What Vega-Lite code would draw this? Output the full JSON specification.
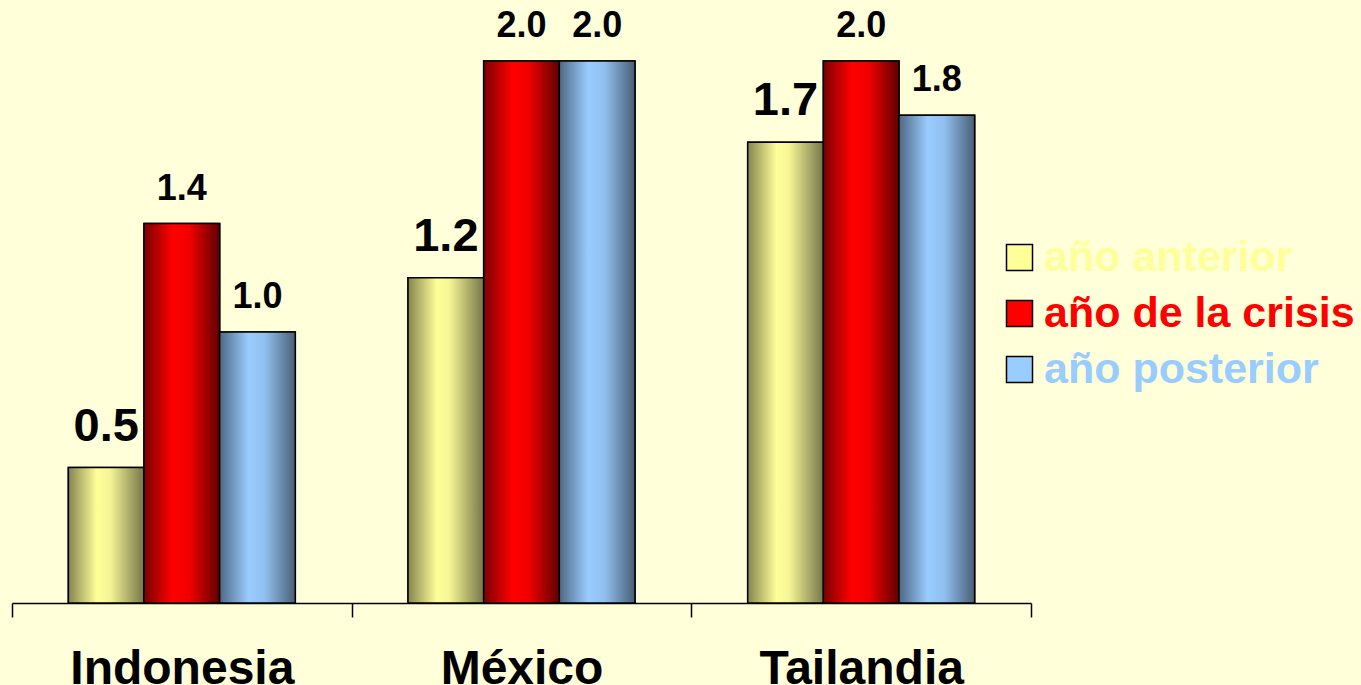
{
  "$schema": "https://vega.github.io/schema/vega-lite/v6.json",
  "width": 1019,
  "height": 542,
  "autosize": {"type": "none"},
  "padding": {"left": 12, "top": 61, "right": 330, "bottom": 82},
  "background": "#FFFFD9",
  "config": {"view": {"stroke": null}, "font": "Liberation Sans"},
  "data": {
    "values": [
      {"pais": "Indonesia", "serie": "año anterior", "valor": 0.5},
      {"pais": "Indonesia", "serie": "año de la crisis", "valor": 1.4},
      {"pais": "Indonesia", "serie": "año posterior", "valor": 1.0},
      {"pais": "México", "serie": "año anterior", "valor": 1.2},
      {"pais": "México", "serie": "año de la crisis", "valor": 2.0},
      {"pais": "México", "serie": "año posterior", "valor": 2.0},
      {"pais": "Tailandia", "serie": "año anterior", "valor": 1.7},
      {"pais": "Tailandia", "serie": "año de la crisis", "valor": 2.0},
      {"pais": "Tailandia", "serie": "año posterior", "valor": 1.8}
    ]
  },
  "encoding": {
    "x": {
      "field": "pais",
      "type": "nominal",
      "sort": ["Indonesia", "México", "Tailandia"],
      "scale": {"paddingInner": 0, "paddingOuter": 0},
      "axis": {
        "title": null,
        "domainColor": "black",
        "domainWidth": 1.5,
        "tickColor": "black",
        "tickWidth": 1.5,
        "tickSize": 14,
        "tickBand": "extent",
        "labelAngle": 0,
        "labelFont": "Liberation Sans",
        "labelFontSize": 48,
        "labelFontWeight": "bold",
        "labelColor": "black",
        "labelPadding": 28,
        "labelLimit": 0
      }
    },
    "xOffset": {
      "field": "serie",
      "type": "nominal",
      "sort": ["año anterior", "año de la crisis", "año posterior"],
      "scale": {"paddingInner": 0, "paddingOuter": 0.745}
    },
    "y": {
      "field": "valor",
      "type": "quantitative",
      "scale": {"domain": [0, 2], "nice": false, "zero": true},
      "axis": null
    }
  },
  "layer": [
    {
      "mark": {"type": "bar", "stroke": "black", "strokeWidth": 1.5},
      "encoding": {
        "color": {
          "field": "serie",
          "type": "nominal",
          "sort": ["año anterior", "año de la crisis", "año posterior"],
          "scale": {
            "domain": ["año anterior", "año de la crisis", "año posterior"],
            "range": ["#FFFF99", "#FF0000", "#99CCFF"]
          },
          "legend": {
            "title": null,
            "orient": "none",
            "legendX": 986,
            "legendY": 175,
            "padding": 0,
            "symbolType": "square",
            "symbolSize": 676,
            "symbolStrokeColor": "black",
            "symbolStrokeWidth": 1.5,
            "symbolFillColor": {"expr": "datum.label === 'año anterior' ? {gradient: 'linear', x1: 0, y1: 0, x2: 1, y2: 0, stops: [{offset: 0, color: '#85854F'}, {offset: 0.4, color: '#FFFF99'}, {offset: 1, color: '#76764A'}]} : datum.label === 'año de la crisis' ? {gradient: 'linear', x1: 0, y1: 0, x2: 1, y2: 0, stops: [{offset: 0, color: '#7A0000'}, {offset: 0.4, color: '#FF0000'}, {offset: 1, color: '#5E0000'}]} : {gradient: 'linear', x1: 0, y1: 0, x2: 1, y2: 0, stops: [{offset: 0, color: '#4E6885'}, {offset: 0.4, color: '#99CCFF'}, {offset: 1, color: '#4A5E75'}]}"},
            "labelFont": "Liberation Sans",
            "labelFontSize": 43,
            "labelFontWeight": "bold",
            "labelColor": {"expr": "datum.label === 'año anterior' ? '#FFFF99' : datum.label === 'año de la crisis' ? '#FF0000' : '#99CCFF'"},
            "labelOffset": 3,
            "labelLimit": 500,
            "rowPadding": 12
          }
        }
      }
    },
    {
      "mark": {"type": "bar", "stroke": "black", "strokeWidth": 1.5},
      "encoding": {
        "fill": {
          "condition": [
            {
              "test": "datum.serie === 'año anterior'",
              "value": {
                "gradient": "linear", "x1": 0, "y1": 0, "x2": 1, "y2": 0,
                "stops": [
                  {"offset": 0, "color": "#85854F"},
                  {"offset": 0.38, "color": "#FFFF99"},
                  {"offset": 0.55, "color": "#F5F595"},
                  {"offset": 1, "color": "#76764A"}
                ]
              }
            },
            {
              "test": "datum.serie === 'año de la crisis'",
              "value": {
                "gradient": "linear", "x1": 0, "y1": 0, "x2": 1, "y2": 0,
                "stops": [
                  {"offset": 0, "color": "#7A0000"},
                  {"offset": 0.38, "color": "#FF0000"},
                  {"offset": 0.6, "color": "#F00000"},
                  {"offset": 1, "color": "#5E0000"}
                ]
              }
            }
          ],
          "value": {
            "gradient": "linear", "x1": 0, "y1": 0, "x2": 1, "y2": 0,
            "stops": [
              {"offset": 0, "color": "#4E6885"},
              {"offset": 0.38, "color": "#99CCFF"},
              {"offset": 0.6, "color": "#90C0F0"},
              {"offset": 1, "color": "#4A5E75"}
            ]
          }
        }
      }
    },
    {
      "transform": [{"filter": "datum.serie === 'año anterior'"}],
      "mark": {"type": "text", "baseline": "alphabetic", "dy": -27, "fontSize": 47, "fontWeight": "bold", "font": "Liberation Sans", "color": "black"},
      "encoding": {"text": {"field": "valor", "type": "quantitative", "format": ".1f"}}
    },
    {
      "transform": [{"filter": "datum.serie !== 'año anterior'"}],
      "mark": {"type": "text", "baseline": "alphabetic", "dy": -24, "fontSize": 36, "fontWeight": "bold", "font": "Liberation Sans", "color": "black"},
      "encoding": {"text": {"field": "valor", "type": "quantitative", "format": ".1f"}}
    }
  ]
}
